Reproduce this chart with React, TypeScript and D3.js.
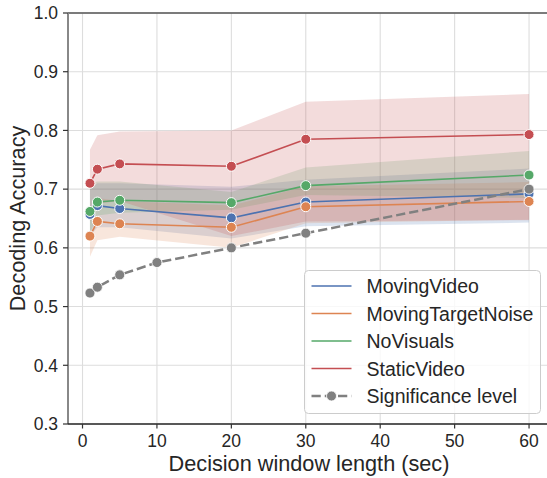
import React from "react";
import * as d3 from "d3";

const windows = [1, 2, 5, 20, 30, 60];
const seriesNames = ["MovingVideo", "MovingTargetNoise", "NoVisuals", "StaticVideo"];
const seriesColors = ["#4c72b0", "#dd8452", "#55a868", "#c44e52"];

const movingVideo = [0.657, 0.672, 0.667, 0.651, 0.678, 0.692];
const movingVideoLo = [0.62, 0.635, 0.635, 0.616, 0.637, 0.643];
const movingVideoHi = [0.70, 0.71, 0.71, 0.704, 0.716, 0.735];

const movingTargetNoise = [0.62, 0.645, 0.641, 0.635, 0.67, 0.679];
const movingTargetNoiseLo = [0.585, 0.613, 0.619, 0.60, 0.642, 0.648];
const movingTargetNoiseHi = [0.665, 0.685, 0.68, 0.672, 0.705, 0.712];

const noVisuals = [0.662, 0.678, 0.681, 0.677, 0.706, 0.724];
const noVisualsLo = [0.625, 0.655, 0.66, 0.665, 0.69, 0.685];
const noVisualsHi = [0.71, 0.713, 0.713, 0.695, 0.737, 0.765];

const staticVideo = [0.71, 0.734, 0.743, 0.739, 0.785, 0.793];
const staticVideoLo = [0.645, 0.675, 0.68, 0.62, 0.645, 0.647];
const staticVideoHi = [0.767, 0.792, 0.798, 0.80, 0.849, 0.862];

const sigWindows = [1, 2, 5, 10, 20, 30, 60];
const sigLevel = [0.523, 0.533, 0.554, 0.575, 0.6, 0.625, 0.7];

const xTicks = [0, 10, 20, 30, 40, 50, 60];
const yTicks = [0.3, 0.4, 0.5, 0.6, 0.7, 0.8, 0.9, 1.0];

const W = 547;
const H = 478;
const FONT = "'Liberation Sans', Arial, sans-serif";
const TEXT = "#262626";

export default function App() {
  const x = d3.scaleLinear().domain([-1.95, 62.95]).range([68, 551]);
  const y = d3.scaleLinear().domain([0.3, 1.0]).range([424, 13]);

  const series = [
    { name: seriesNames[0], color: seriesColors[0], v: movingVideo, lo: movingVideoLo, hi: movingVideoHi },
    { name: seriesNames[1], color: seriesColors[1], v: movingTargetNoise, lo: movingTargetNoiseLo, hi: movingTargetNoiseHi },
    { name: seriesNames[2], color: seriesColors[2], v: noVisuals, lo: noVisualsLo, hi: noVisualsHi },
    { name: seriesNames[3], color: seriesColors[3], v: staticVideo, lo: staticVideoLo, hi: staticVideoHi },
  ];

  const line = d3
    .line<[number, number]>()
    .x((d) => x(d[0]))
    .y((d) => y(d[1]));
  const area = d3
    .area<[number, number, number]>()
    .x((d) => x(d[0]))
    .y0((d) => y(d[1]))
    .y1((d) => y(d[2]));

  const legendItems = [...seriesNames.map((n, i) => ({ name: n, color: seriesColors[i], sig: false })), { name: "Significance level", color: "#808080", sig: true }];

  return (
    <svg width={W} height={H} style={{ position: "absolute", left: 0, top: 0, background: "#fff" }}>
      <defs>
        <clipPath id="plotclip">
          <rect x={68} y={13} width={W - 68} height={411} />
        </clipPath>
      </defs>
      {/* grid */}
      {xTicks.map((t) => (
        <line key={"gx" + t} x1={x(t)} x2={x(t)} y1={13} y2={424} stroke="#dddddd" strokeWidth={1.1} />
      ))}
      {yTicks.map((t) => (
        <line key={"gy" + t} x1={68} x2={W} y1={y(t)} y2={y(t)} stroke="#dddddd" strokeWidth={1.1} />
      ))}
      <g clipPath="url(#plotclip)">
        {series.map((s) => (
          <path
            key={"band" + s.name}
            d={area(windows.map((w, i) => [w, s.lo[i], s.hi[i]] as [number, number, number])) || ""}
            fill={s.color}
            fillOpacity={0.2}
            stroke="none"
          />
        ))}
        {series.map((s) => (
          <g key={"line" + s.name}>
            <path d={line(windows.map((w, i) => [w, s.v[i]] as [number, number])) || ""} fill="none" stroke={s.color} strokeWidth={1.6} />
            {windows.map((w, i) => (
              <circle key={w} cx={x(w)} cy={y(s.v[i])} r={5} fill={s.color} stroke="#fff" strokeWidth={1} />
            ))}
          </g>
        ))}
        <path
          d={line(sigWindows.map((w, i) => [w, sigLevel[i]] as [number, number])) || ""}
          fill="none"
          stroke="#808080"
          strokeWidth={2.5}
          strokeDasharray="9.25,4"
        />
        {sigWindows.map((w, i) => (
          <circle key={"s" + w} cx={x(w)} cy={y(sigLevel[i])} r={5} fill="#808080" stroke="#fff" strokeWidth={0.8} />
        ))}
      </g>
      {/* spines */}
      <line x1={68} x2={W} y1={13} y2={13} stroke="#555" strokeWidth={1.5} />
      <line x1={68} x2={68} y1={13} y2={424} stroke="#888" strokeWidth={2} />
      <line x1={68} x2={W} y1={424} y2={424} stroke="#262626" strokeWidth={1.4} />
      {/* y ticks */}
      {yTicks.map((t) => (
        <g key={"yt" + t}>
          <line x1={63} x2={68} y1={y(t)} y2={y(t)} stroke="#333" strokeWidth={1.2} />
          <text x={58} y={y(t)} dy="0.36em" textAnchor="end" fontFamily={FONT} fontSize={17.5} fill={TEXT}>
            {t.toFixed(1)}
          </text>
        </g>
      ))}
      {xTicks.map((t) => (
        <g key={"xt" + t}>
          <line x1={x(t)} x2={x(t)} y1={424} y2={428.5} stroke="#333" strokeWidth={1.2} />
          <text x={x(t)} y={446.7} textAnchor="middle" fontFamily={FONT} fontSize={17.5} fill={TEXT}>
            {t}
          </text>
        </g>
      ))}
      <text x={309} y={470.5} textAnchor="middle" fontFamily={FONT} fontSize={21.7} fill={TEXT}>
        Decision window length (sec)
      </text>
      <text transform="translate(25,218.5) rotate(-90)" textAnchor="middle" fontFamily={FONT} fontSize={21.7} fill={TEXT}>
        Decoding Accuracy
      </text>
      {/* legend */}
      <rect x={304.5} y={270.5} width={236} height={143} rx={4} fill="#fff" fillOpacity={0.8} stroke="#cccccc" strokeWidth={1} />
      {legendItems.map((it, i) => {
        const cy = 286 + i * 27.5;
        return (
          <g key={"lg" + it.name}>
            <line
              x1={311.5}
              x2={351.5}
              y1={cy}
              y2={cy}
              stroke={it.color}
              strokeWidth={it.sig ? 2.5 : 1.6}
              strokeDasharray={it.sig ? "9.25,4" : undefined}
            />
            {it.sig && <circle cx={331.5} cy={cy} r={5} fill="#808080" stroke="#fff" strokeWidth={0.8} />}
            <text x={366.5} y={cy} dy="0.36em" fontFamily={FONT} fontSize={19.5} fill={TEXT}>
              {it.name}
            </text>
          </g>
        );
      })}
    </svg>
  );
}
